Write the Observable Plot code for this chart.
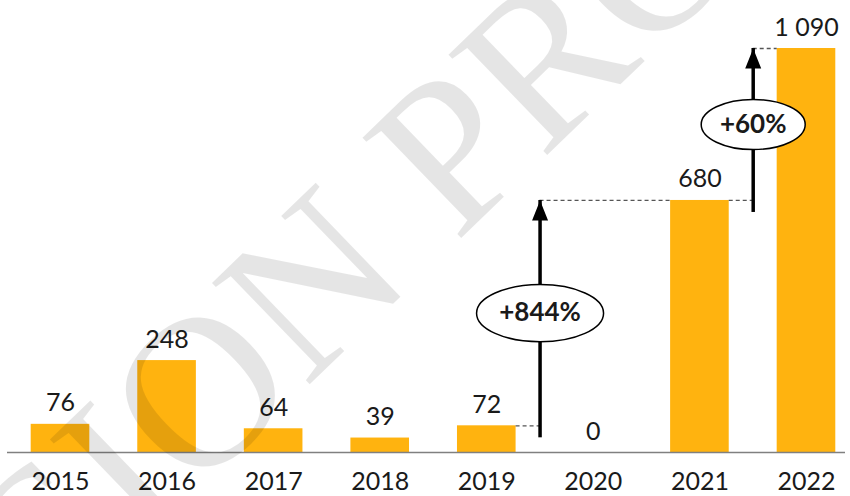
<!DOCTYPE html>
<html><head><meta charset="utf-8">
<script src="https://cdn.jsdelivr.net/npm/d3@7"></script>
<script src="https://cdn.jsdelivr.net/npm/@observablehq/plot@0.6"></script>
<style>body{margin:0;background:#fff;} #chart svg{display:block}</style>
</head><body><div id="chart"></div>
<script>
// ---- data ----
const years = [2015, 2016, 2017, 2018, 2019, 2020, 2021, 2022];
const values = [76, 248, 64, 39, 72, 0, 680, 1090];
const valueLabels = ["76", "248", "64", "39", "72", "0", "680", "1 090"];
const jumpFrom = [2019, 2021];
const jumpTo = [2021, 2022];
const watermark = ["SION PRO"];

const bars = years.map((year, i) => ({year, value: values[i], label: valueLabels[i]}));
const valueOf = (y) => values[years.indexOf(y)];
const halfW = 0.275;
const notes = jumpFrom.map((a, i) => {
  const b = jumpTo[i], v1 = valueOf(a), v2 = valueOf(b);
  return {a, b, x: a + 0.5, v1, v2, mid: (v1 + v2) / 2,
          label: `+${Math.round((v2 / v1 - 1) * 100)}%`};
});

const K = 0.5522848;
const ellipseSymbol = {
  draw(ctx, size) {
    const rx = Math.sqrt(size / Math.PI), ry = 0.3 * rx + 9.5;
    ctx.moveTo(rx, 0);
    ctx.bezierCurveTo(rx, K * ry, K * rx, ry, 0, ry);
    ctx.bezierCurveTo(-K * rx, ry, -rx, K * ry, -rx, 0);
    ctx.bezierCurveTo(-rx, -K * ry, -K * rx, -ry, 0, -ry);
    ctx.bezierCurveTo(K * rx, -ry, rx, -K * ry, rx, 0);
    ctx.closePath();
  }
};
const headSymbol = {
  draw(ctx) {
    ctx.moveTo(0, 0);
    ctx.lineTo(8, 20);
    ctx.lineTo(-8, 20);
    ctx.closePath();
  }
};

const barColor = "#FFB30F";
const ink = "#1a1a1a";

const chart = Plot.plot({
  width: 850,
  height: 496,
  marginTop: 48,
  marginBottom: 44,
  marginLeft: 0,
  marginRight: 0,
  x: {domain: [2014.437, 2022.413]},
  y: {domain: [0, 1090], axis: null},
  r: {type: "identity"},
  style: {fontFamily: "Lato, sans-serif", fontSize: "25px", color: ink, background: "#fff", overflow: "visible"},
  marks: [
    Plot.rectY(bars, {x1: d => d.year - halfW, x2: d => d.year + halfW, y: "value", fill: barColor}),
    Plot.ruleY([0], {stroke: "#808080", strokeWidth: 1.5, insetLeft: 7, insetRight: 5}),
    Plot.ruleY(notes, {y: "v1", x1: d => d.a + halfW, x2: "x", stroke: "#555", strokeWidth: 1.3, strokeDasharray: "4,3"}),
    Plot.ruleY(notes, {y: "v2", x1: "x", x2: d => d.b - halfW, stroke: "#555", strokeWidth: 1.3, strokeDasharray: "4,3"}),
    Plot.ruleX(notes, {x: "x", y1: "v1", y2: "v2", stroke: "#000", strokeWidth: 3.5, insetTop: 12}),
    Plot.dot(notes, {x: "x", y: "v2", r: 5, symbol: headSymbol, fill: "#000", stroke: null}),
    Plot.dot(notes, {x: "x", y: "mid", r: d => 11.5 * d.label.length + 6, symbol: ellipseSymbol, fill: "#fff", stroke: "#000", strokeWidth: 1.5}),
    Plot.text(notes, {x: "x", y: "mid", text: "label", fontWeight: "bold", fontSize: 26, fill: ink}),
    Plot.text(bars, {x: "year", y: "value", text: "label", lineAnchor: "bottom", dy: -13, fill: ink}),
    Plot.axisX(years, {tickSize: 0, tickPadding: 20, tickFormat: d => String(d), fill: ink}),
    Plot.text(watermark, {frameAnchor: "middle", dx: -67, dy: -9, rotate: -44, text: d => d,
      fontFamily: "Liberation Serif, serif", fontSize: 215, fill: "#000", fillOpacity: 0.1})
  ]
});
document.getElementById("chart").appendChild(chart);
</script>
</body></html>
